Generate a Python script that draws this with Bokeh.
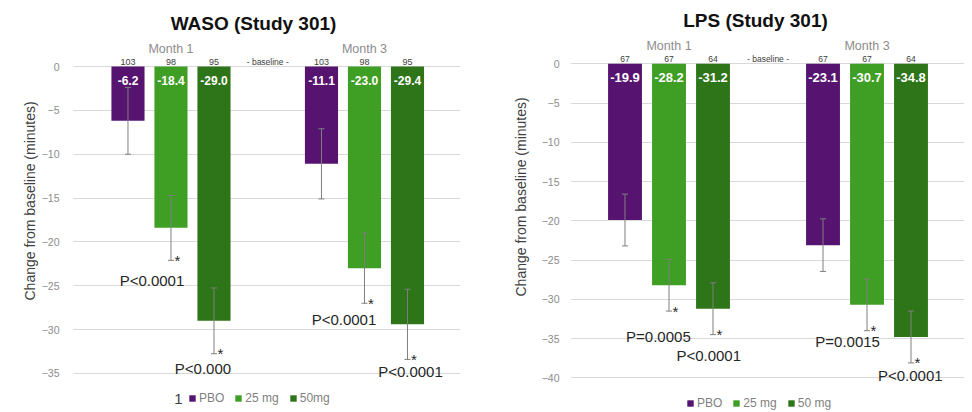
import math
from bokeh.plotting import figure
from bokeh.models import (ColumnDataSource, Range1d, FixedTicker, Whisker, TeeHead,
                          Title, Legend, LegendItem)
from bokeh.layouts import row
from bokeh.embed import file_html
from bokeh.resources import INLINE
from bokeh.core.properties import value

# ---------------- data ----------------
months = ["Month 1", "Month 3"]
doses = ["PBO", "25 mg", "50 mg"]
dose_colors = ["#561470", "#3f9e24", "#2e7419"]
y_label = "Change from baseline (minutes)"
baseline_label = "- baseline -"

waso_title = "WASO (Study 301)"
waso_mean = [-6.2, -18.4, -29.0, -11.1, -23.0, -29.4]
waso_err = [3.8, 3.7, 3.75, 4.0, 4.0, 4.0]
waso_n = [103, 98, 95, 103, 98, 95]
waso_sig = [False, True, True, False, True, True]
waso_p = ["", "P<0.0001", "P<0.000", "", "P<0.0001", "P<0.0001"]
waso_legend = ["PBO", "25 mg", "50mg"]
waso_yticks = [0, -5, -10, -15, -20, -25, -30, -35]

lps_title = "LPS (Study 301)"
lps_mean = [-19.9, -28.2, -31.2, -23.1, -30.7, -34.8]
lps_err = [3.3, 3.3, 3.3, 3.35, 3.3, 3.3]
lps_n = [67, 67, 64, 67, 67, 64]
lps_sig = [False, True, True, False, True, True]
lps_p = ["", "P=0.0005", "P<0.0001", "", "P=0.0015", "P<0.0001"]
lps_legend = ["PBO", "25 mg", "50 mg"]
lps_yticks = [0, -5, -10, -15, -20, -25, -30, -35, -40]

# ---------------- layout ----------------
FONT = "Liberation Sans"
H = 412

left_cfg = dict(width=480, bl=73, br=20, ppu=8.77, zero_px=66.0,
                x_start=-1.267, x_end=7.733, standoff=14,
                title_xy=(253, 23), month_py=48, n_py=61, val_dy=13.5, val_size="12px",
                ylab_offset=112, ylab_standoff=1, legend_xy=(115, 7),
                p_off=[None, (-19, 20), (-11, 15), None, (-20.5, 16.5), (3, 12)],
                month_size="12.5px", n_size="9px",
                extra=("1", 178, 398))
right_cfg = dict(width=492, bl=90, br=8, ppu=7.85, zero_px=63.3,
                 x_start=-1.239, x_end=7.716, standoff=11,
                 title_xy=(275, 20), month_py=45, n_py=58, val_dy=14, val_size="13px",
                 ylab_offset=116, ylab_standoff=20, legend_xy=(116, 2),
                 p_off=[None, (-10.6, 25), (-4.3, 21), None, (-19.4, 10.5), (-0.7, 12.6)],
                 month_size="12.5px", n_size="8.5px",
                 extra=None)


def make_panel(cfg, title, mean, err, n, sig, pv, legend_labels, yticks):
    ppu = cfg["ppu"]
    z = cfg["zero_px"]
    fw = cfg["width"] - cfg["bl"] - cfg["br"]
    slot = fw / (cfg["x_end"] - cfg["x_start"])

    def X(px):
        return cfg["x_start"] + (px - cfg["bl"]) / slot

    def Y(py):
        return (z - py) / ppu

    p = figure(width=cfg["width"], height=H,
               x_range=Range1d(cfg["x_start"], cfg["x_end"]),
               y_range=Range1d(Y(H), Y(0)),
               x_axis_location=None, output_backend="svg", toolbar_location=None,
               min_border_left=cfg["bl"], min_border_right=cfg["br"],
               min_border_top=0, min_border_bottom=0)
    p.outline_line_color = None
    p.background_fill_color = "white"
    p.border_fill_color = "white"

    nd = len(doses)
    xs = [m * (nd + 1.5) + d for m in range(len(months)) for d in range(nd)]
    upper = [m + e for m, e in zip(mean, err)]
    lower = [m - e for m, e in zip(mean, err)]

    # axis / grid
    ticker = FixedTicker(ticks=yticks)
    p.yaxis.ticker = ticker
    p.ygrid.ticker = ticker
    p.xgrid.visible = False
    p.ygrid.grid_line_color = "#d9d9d9"
    p.ygrid.grid_line_width = 1
    ax = p.yaxis[0]
    ax.axis_line_color = None
    ax.major_tick_line_color = None
    ax.minor_tick_line_color = None
    ax.major_tick_out = 0
    ax.major_tick_in = 0
    ax.major_label_standoff = cfg["standoff"]
    ax.major_label_text_font = FONT
    ax.major_label_text_font_size = "10.5px"
    ax.major_label_text_color = "#8c8c8c"

    # y-axis title (placed along the left side)
    p.add_layout(Title(text=y_label, align="left", offset=cfg["ylab_offset"],
                       text_font=FONT, text_font_size="14px", text_font_style="normal",
                       text_color="#404040", standoff=cfg["ylab_standoff"]), "left")

    # bars
    renderers = []
    for d in range(nd):
        idx = [m * nd + d for m in range(len(months))]
        src = ColumnDataSource(dict(x=[xs[i] for i in idx], top=[mean[i] for i in idx]))
        r = p.vbar(x="x", top="top", bottom=0, width=0.77, source=src,
                   fill_color=dose_colors[d], line_color=None)
        renderers.append(r)

    # error bars
    esrc = ColumnDataSource(dict(x=xs, upper=upper, lower=lower))
    w = Whisker(source=esrc, base="x", upper="upper", lower="lower",
                line_color="#7f7f7f", line_width=1, level="annotation",
                upper_head=TeeHead(size=6, line_color="#7f7f7f", line_width=1),
                lower_head=TeeHead(size=6, line_color="#7f7f7f", line_width=1))
    p.add_layout(w)

    # value labels
    vsrc = ColumnDataSource(dict(x=xs, y=[Y(z + cfg["val_dy"])] * len(xs),
                                 t=[f"{v:.1f}" for v in mean]))
    p.text(x="x", y="y", text="t", source=vsrc, text_color="white",
           text_font=value(FONT), text_font_style="bold", text_font_size=cfg["val_size"],
           text_align="center", text_baseline="middle")

    # n labels
    nsrc = ColumnDataSource(dict(x=xs, y=[Y(cfg["n_py"])] * len(xs), t=[str(v) for v in n]))
    p.text(x="x", y="y", text="t", source=nsrc, text_color="#404040",
           text_font=value(FONT), text_font_size=cfg["n_size"],
           text_align="center", text_baseline="middle")

    # baseline label between the month groups
    p.text(x=[(xs[nd - 1] + xs[nd]) / 2], y=[Y(cfg["n_py"])], text=[baseline_label],
           text_color="#404040", text_font=value(FONT), text_font_size="8.5px",
           text_align="center", text_baseline="middle")

    # month labels
    msrc = ColumnDataSource(dict(x=[xs[m * nd + 1] for m in range(len(months))],
                                 y=[Y(cfg["month_py"])] * len(months), t=months))
    p.text(x="x", y="y", text="t", source=msrc, text_color="#8c8c8c",
           text_font=value(FONT), text_font_size=cfg["month_size"],
           text_align="center", text_baseline="middle")

    # chart title
    tx, ty = cfg["title_xy"]
    p.text(x=[X(tx)], y=[Y(ty)], text=[title], text_color="#111111",
           text_font=value(FONT), text_font_style="bold", text_font_size="19px",
           text_align="center", text_baseline="middle")

    # significance stars
    si = [i for i in range(len(xs)) if sig[i]]
    ssrc = ColumnDataSource(dict(x=[xs[i] for i in si], y=[lower[i] for i in si],
                                 t=["*"] * len(si)))
    p.text(x="x", y="y", text="t", source=ssrc, x_offset=6.5, text_color="#262626",
           text_font=value(FONT), text_font_size="15px",
           text_align="center", text_baseline="alphabetic")

    # p-values
    pi_ = [i for i in range(len(xs)) if pv[i]]
    psrc = ColumnDataSource(dict(x=[xs[i] for i in pi_], y=[lower[i] for i in pi_],
                                 t=[pv[i] for i in pi_],
                                 dx=[cfg["p_off"][i][0] for i in pi_],
                                 dy=[cfg["p_off"][i][1] for i in pi_]))
    p.text(x="x", y="y", text="t", source=psrc, x_offset="dx", y_offset="dy",
           text_color="#262626", text_font=value(FONT), text_font_size="15px",
           text_align="center", text_baseline="middle")

    # stray footnote mark
    if cfg["extra"]:
        et, ex, ey = cfg["extra"]
        p.text(x=[X(ex)], y=[Y(ey)], text=[et], text_color="#404040",
               text_font=value(FONT), text_font_size="15px",
               text_align="center", text_baseline="middle")

    # legend
    items = [LegendItem(label=legend_labels[d], renderers=[renderers[d]]) for d in range(nd)]
    leg = Legend(items=items, orientation="horizontal", location=cfg["legend_xy"],
                 glyph_width=8, glyph_height=8, label_standoff=3, spacing=10,
                 padding=0, margin=0, label_height=12,
                 border_line_color=None, background_fill_alpha=0,
                 label_text_font=FONT, label_text_font_size="12px",
                 label_text_color="#7f7f7f")
    p.add_layout(leg)
    return p


left = make_panel(left_cfg, waso_title, waso_mean, waso_err, waso_n, waso_sig, waso_p,
                  waso_legend, waso_yticks)
right = make_panel(right_cfg, lps_title, lps_mean, lps_err, lps_n, lps_sig, lps_p,
                   lps_legend, lps_yticks)

layout = row(left, right)
open("out.html", "w").write(file_html(layout, INLINE))
